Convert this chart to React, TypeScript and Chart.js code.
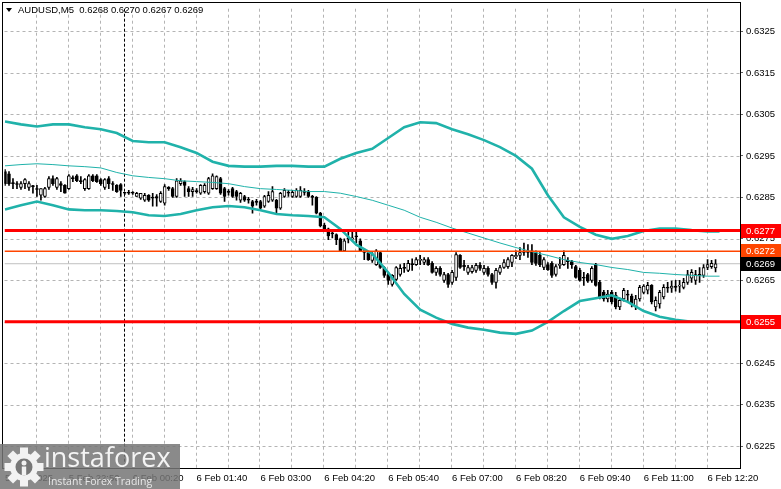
import React, { useEffect, useRef } from "react";
import { Chart, registerables } from "chart.js";

Chart.register(...registerables);

// ---------- data (AUDUSD M5) ----------
const OPEN = [
  0.62912, 0.62907, 0.62883, 0.62883, 0.62874, 0.62883, 0.62874, 0.62876, 0.62871, 0.62855,
  0.62852, 0.62874, 0.62895, 0.62874, 0.62883, 0.62879, 0.62871, 0.62895, 0.62902, 0.62888,
  0.62871, 0.62871, 0.62902, 0.62902, 0.62893, 0.62874, 0.62895, 0.62883, 0.62879, 0.62881,
  0.6286, 0.6286, 0.6286, 0.62852, 0.62848, 0.62843, 0.62855, 0.62848, 0.62852, 0.6284,
  0.62836, 0.62874, 0.62871, 0.62852, 0.62883, 0.62888, 0.62871, 0.62864, 0.62864, 0.6286,
  0.62864, 0.6286, 0.62871, 0.62871, 0.62895, 0.62871, 0.62864, 0.62871, 0.62864, 0.62843,
  0.62852, 0.62845, 0.6284, 0.6284, 0.6284, 0.62829, 0.6284, 0.62843, 0.62843, 0.62824,
  0.62852, 0.62862, 0.62852, 0.62852, 0.62852, 0.62864, 0.62864, 0.62852, 0.6285, 0.62812,
  0.62783, 0.62774, 0.62764, 0.6276, 0.6275, 0.62721, 0.62752, 0.6275, 0.62757, 0.62745,
  0.62721, 0.62717, 0.62698, 0.62688, 0.62717, 0.62681, 0.62664, 0.6264, 0.62652, 0.62664,
  0.62679, 0.62674, 0.62688, 0.62688, 0.62698, 0.62693, 0.627, 0.62691, 0.62669, 0.62679,
  0.6265, 0.62664, 0.62645, 0.62657, 0.6271, 0.62686, 0.62669, 0.62671, 0.62674, 0.62686,
  0.62669, 0.62679, 0.62664, 0.62645, 0.62669, 0.62681, 0.62683, 0.62693, 0.62707, 0.6271,
  0.62717, 0.62717, 0.62721, 0.62717, 0.6271, 0.62681, 0.62688, 0.62691, 0.62664, 0.62686,
  0.62688, 0.62698, 0.62695, 0.62683, 0.62674, 0.62655, 0.62664, 0.6265, 0.62688, 0.62645,
  0.62621, 0.62605, 0.62621, 0.62614, 0.62586, 0.62605, 0.62617, 0.62612, 0.62586, 0.62605,
  0.62621, 0.62626, 0.62638, 0.62586, 0.62593, 0.6261, 0.62633, 0.62631, 0.62636, 0.62636,
  0.62633, 0.62645, 0.62655, 0.6265, 0.62664, 0.62662, 0.62681, 0.62683, 0.6268,
];
const HIGH = [
  0.62917, 0.62912, 0.62895, 0.62888, 0.62888, 0.62895, 0.62888, 0.62879, 0.62879, 0.62871,
  0.62874, 0.629, 0.62902, 0.62898, 0.62888, 0.62881, 0.62905, 0.62902, 0.62905, 0.629,
  0.62895, 0.62905, 0.62905, 0.62905, 0.62895, 0.62895, 0.629, 0.62888, 0.62881, 0.62883,
  0.62862, 0.62867, 0.62864, 0.62862, 0.6286, 0.6286, 0.62857, 0.6286, 0.62857, 0.62864,
  0.62881, 0.62876, 0.62874, 0.62895, 0.62895, 0.6289, 0.62876, 0.62874, 0.62871, 0.62881,
  0.62883, 0.62898, 0.62907, 0.62902, 0.62898, 0.62874, 0.62869, 0.62874, 0.62867, 0.62862,
  0.62855, 0.6285, 0.62843, 0.62845, 0.62843, 0.62855, 0.62864, 0.62876, 0.62845, 0.62862,
  0.62871, 0.62867, 0.62867, 0.62871, 0.62876, 0.62871, 0.62867, 0.62855, 0.62852, 0.62814,
  0.62788, 0.62776, 0.62769, 0.62762, 0.62752, 0.6275, 0.62769, 0.62769, 0.62769, 0.6275,
  0.62726, 0.62719, 0.62717, 0.62724, 0.62719, 0.62683, 0.62669, 0.62664, 0.62683, 0.62688,
  0.62691, 0.62698, 0.62702, 0.62705, 0.6271, 0.62705, 0.62705, 0.62695, 0.62683, 0.62683,
  0.62669, 0.62667, 0.62674, 0.62717, 0.62712, 0.62698, 0.62686, 0.62686, 0.62691, 0.62693,
  0.62686, 0.62683, 0.62667, 0.62679, 0.62686, 0.627, 0.62705, 0.62712, 0.62721, 0.62729,
  0.6274, 0.62736, 0.62736, 0.62721, 0.62717, 0.62705, 0.62693, 0.62695, 0.62688, 0.62705,
  0.62721, 0.62705, 0.62698, 0.62686, 0.62679, 0.62669, 0.62667, 0.62683, 0.62691, 0.6265,
  0.62626, 0.62626, 0.62626, 0.62621, 0.62607, 0.62631, 0.62626, 0.62617, 0.62614, 0.62638,
  0.6264, 0.62645, 0.6264, 0.6261, 0.62626, 0.6264, 0.62645, 0.62648, 0.6265, 0.6265,
  0.62655, 0.62674, 0.62676, 0.62674, 0.62681, 0.62688, 0.627, 0.62698, 0.627,
];
const LOW = [
  0.62879, 0.62879, 0.62871, 0.62871, 0.62869, 0.62871, 0.62867, 0.6286, 0.62852, 0.62843,
  0.6285, 0.62869, 0.62879, 0.62869, 0.62864, 0.6286, 0.62869, 0.62888, 0.62888, 0.62883,
  0.62867, 0.62869, 0.62888, 0.62886, 0.62879, 0.62869, 0.62871, 0.62867, 0.62862, 0.62852,
  0.62857, 0.62857, 0.62857, 0.62852, 0.62845, 0.6284, 0.6284, 0.62829, 0.62829, 0.62838,
  0.62831, 0.62867, 0.6285, 0.6285, 0.62879, 0.62852, 0.62852, 0.62852, 0.6286, 0.62857,
  0.6286, 0.62857, 0.62869, 0.62869, 0.62857, 0.6284, 0.62855, 0.6285, 0.62843, 0.62838,
  0.6284, 0.62836, 0.62812, 0.62831, 0.62821, 0.62826, 0.62838, 0.6284, 0.62812, 0.62821,
  0.6285, 0.62852, 0.6285, 0.6285, 0.6285, 0.62855, 0.6285, 0.62831, 0.6281, 0.62779,
  0.62769, 0.62748, 0.62752, 0.62736, 0.62719, 0.62719, 0.6274, 0.62745, 0.6274, 0.62719,
  0.627, 0.62698, 0.62693, 0.62686, 0.62679, 0.62657, 0.6264, 0.62636, 0.6265, 0.6266,
  0.62669, 0.62671, 0.62674, 0.62686, 0.62688, 0.62688, 0.62686, 0.62667, 0.62662, 0.6266,
  0.62645, 0.62633, 0.6264, 0.6265, 0.62679, 0.62674, 0.62664, 0.62667, 0.62669, 0.62674,
  0.62664, 0.6266, 0.6264, 0.62631, 0.62664, 0.62679, 0.62679, 0.62683, 0.62702, 0.627,
  0.6271, 0.62705, 0.62688, 0.62686, 0.62683, 0.62676, 0.62674, 0.62657, 0.6266, 0.62679,
  0.62686, 0.62679, 0.62679, 0.62655, 0.62648, 0.62638, 0.62645, 0.62645, 0.62636, 0.62605,
  0.626, 0.62598, 0.62593, 0.62581, 0.62579, 0.626, 0.626, 0.62586, 0.62579, 0.626,
  0.62617, 0.62617, 0.62593, 0.62576, 0.62583, 0.62605, 0.62621, 0.62621, 0.62624, 0.62621,
  0.62629, 0.6264, 0.62645, 0.6264, 0.62645, 0.62657, 0.62676, 0.62679, 0.6267,
];
const CLOSE = [
  0.62883, 0.62883, 0.62883, 0.62881, 0.62883, 0.62893, 0.62883, 0.62876, 0.62869, 0.62871,
  0.62871, 0.62895, 0.62883, 0.62895, 0.62879, 0.6286, 0.62902, 0.62895, 0.6289, 0.62888,
  0.62893, 0.62902, 0.6289, 0.62888, 0.62883, 0.62893, 0.62883, 0.62881, 0.62864, 0.62867,
  0.6286, 0.6286, 0.6286, 0.6286, 0.6286, 0.62855, 0.62843, 0.62848, 0.62848, 0.6286,
  0.62876, 0.62871, 0.62852, 0.6289, 0.6289, 0.62879, 0.62864, 0.62869, 0.62864, 0.62879,
  0.62879, 0.62895, 0.62902, 0.629, 0.6286, 0.62852, 0.62862, 0.62852, 0.62852, 0.6286,
  0.62843, 0.62843, 0.62829, 0.62838, 0.62824, 0.62852, 0.62855, 0.62864, 0.62824, 0.6286,
  0.62867, 0.6286, 0.62862, 0.62867, 0.62867, 0.62862, 0.62852, 0.6285, 0.62812, 0.62781,
  0.62774, 0.62757, 0.62762, 0.62748, 0.62721, 0.62745, 0.6275, 0.62752, 0.62755, 0.62721,
  0.62717, 0.627, 0.62712, 0.62721, 0.62681, 0.62662, 0.6265, 0.62662, 0.62681, 0.62679,
  0.62679, 0.62691, 0.62688, 0.627, 0.627, 0.627, 0.62688, 0.62669, 0.62679, 0.62664,
  0.62664, 0.6264, 0.62669, 0.62712, 0.62681, 0.62683, 0.62681, 0.62681, 0.62686, 0.62679,
  0.62679, 0.62664, 0.62645, 0.62674, 0.62681, 0.62693, 0.627, 0.6271, 0.6271, 0.62717,
  0.62717, 0.62717, 0.62693, 0.62691, 0.62688, 0.627, 0.62676, 0.62662, 0.62683, 0.62688,
  0.6271, 0.62695, 0.62688, 0.62657, 0.6265, 0.62655, 0.62648, 0.62679, 0.62638, 0.6261,
  0.62605, 0.62617, 0.62598, 0.62586, 0.62602, 0.62626, 0.62614, 0.62593, 0.62605, 0.62633,
  0.62636, 0.62638, 0.62598, 0.62602, 0.62621, 0.62633, 0.62631, 0.62636, 0.62633, 0.62638,
  0.62645, 0.62664, 0.62669, 0.62664, 0.62662, 0.62681, 0.62688, 0.62691, 0.6269,
];

// Bollinger bands, read every 4 bars
const BAND_INDEX = [
  0, 4, 8, 12, 16, 20, 24, 28, 32, 36, 40, 44, 48, 52, 56, 60, 64, 68, 72, 76, 80, 84, 88,
  92, 96, 100, 104, 108, 112, 116, 120, 124, 128, 132, 136, 140, 144, 148, 152, 156, 160,
  164, 168, 172, 176, 179,
];
const UPPER = [
  0.63033, 0.63026, 0.63021, 0.63026, 0.63026, 0.63019, 0.63014, 0.63005, 0.62986, 0.62983,
  0.62983, 0.62971, 0.62957, 0.62936, 0.62926, 0.62924, 0.62924, 0.62926, 0.62926, 0.62924,
  0.62924, 0.62943, 0.62957, 0.62967, 0.62993, 0.63019, 0.63031, 0.63029, 0.63014, 0.63002,
  0.62988, 0.62971, 0.6295, 0.62919, 0.62855, 0.62802, 0.62779, 0.6276, 0.6275, 0.62757,
  0.62769, 0.62775, 0.62775, 0.62771, 0.62768, 0.62768,
];
const MIDDLE = [
  0.62926, 0.62929, 0.62931, 0.62929, 0.62926, 0.62924, 0.62921, 0.6291, 0.62902, 0.62898,
  0.62895, 0.6289, 0.62888, 0.62886, 0.62883, 0.62876, 0.62871, 0.62869, 0.62867, 0.62864,
  0.62864, 0.6286, 0.62852, 0.62843, 0.62831, 0.62819, 0.62802, 0.6279, 0.62776, 0.62764,
  0.62752, 0.6274, 0.62729, 0.62719, 0.6271, 0.627, 0.62693, 0.62688, 0.62681, 0.62676,
  0.62669, 0.62667, 0.62664, 0.62662, 0.6266, 0.6266,
];
const LOWER = [
  0.62821, 0.62831, 0.6284, 0.62831, 0.62821, 0.62819, 0.62819, 0.62817, 0.62814, 0.62807,
  0.62805, 0.6281, 0.62819, 0.62826, 0.62829, 0.62826, 0.62819, 0.6281, 0.62807, 0.62805,
  0.62802, 0.62774, 0.62736, 0.62714, 0.62669, 0.62617, 0.62579, 0.6256, 0.62545, 0.62536,
  0.62531, 0.62524, 0.62521, 0.62529, 0.6255, 0.62576, 0.626, 0.62607, 0.62614, 0.62598,
  0.62576, 0.62562, 0.62555, 0.6255, 0.6255, 0.6255,
];

const LEVEL_PRICES = [0.6277, 0.6272, 0.6255];
const BID_PRICE = 0.6269;
const TAG_PRICES = [0.6277, 0.6272, 0.6269, 0.6255];
const Y_TICKS = [0.6225, 0.6235, 0.6245, 0.6255, 0.6265, 0.6275, 0.6285, 0.6295, 0.6305, 0.6315, 0.6325];
const X_GRID_INDEX = [0, 8, 16, 24, 32, 40, 48, 56, 64, 72, 80, 88, 96, 104, 112, 120, 128, 136, 144, 152, 160, 168, 176];
const LABEL_INDEX = [0, 16, 32, 48, 64, 80, 96, 112, 128, 144, 160, 176];
const LABEL_TEXT = [
  "5 Feb 2025", "5 Feb 22:50", "6 Feb 00:20", "6 Feb 01:40", "6 Feb 03:00", "6 Feb 04:20",
  "6 Feb 05:40", "6 Feb 07:00", "6 Feb 08:20", "6 Feb 09:40", "6 Feb 11:00", "6 Feb 12:20",
];
const SEPARATOR_INDEX = 30;
const HEADER = "AUDUSD,M5  0.6268 0.6270 0.6267 0.6269";

// ---------- view ----------
const X_MIN = -0.125;
const X_MAX = 184.125;
const Y_MIN = 0.621976;
const Y_MAX = 0.633048;

const TEAL = "#20b2aa";
const GRID = "#b4b4b4";
const LEVEL_COLORS = ["#ff0000", "#ff4500", "#ff0000"];
const LEVEL_WIDTHS = [3, 1.5, 3];
const TAG_COLORS = ["#ff0000", "#ff4500", "#000000", "#ff0000"];
const FONT = "'Liberation Sans', Arial, sans-serif";

const overlayPlugin = {
  id: "mtOverlay",
  beforeDatasetsDraw(chart: any) {
    const { ctx, chartArea, scales } = chart;
    ctx.save();
    ctx.strokeStyle = GRID;
    ctx.lineWidth = 1;
    ctx.setLineDash([3, 3]);
    // grid (vertical + horizontal), dashed
    X_GRID_INDEX.forEach((k) => {
      const x = Math.round(scales.x.getPixelForValue(k)) - 0.5;
      if (x < chartArea.left + 1) return;
      ctx.beginPath();
      ctx.moveTo(x, chartArea.top);
      ctx.lineTo(x, chartArea.bottom);
      ctx.stroke();
    });
    Y_TICKS.forEach((p) => {
      const y = Math.round(scales.y.getPixelForValue(p)) + 0.5;
      ctx.beginPath();
      ctx.moveTo(chartArea.left, y);
      ctx.lineTo(chartArea.right, y);
      ctx.stroke();
    });
    // day separator
    const sx = Math.round(scales.x.getPixelForValue(SEPARATOR_INDEX)) - 0.5;
    ctx.strokeStyle = "#000";
    ctx.setLineDash([3, 2]);
    ctx.beginPath();
    ctx.moveTo(sx, chartArea.top);
    ctx.lineTo(sx, chartArea.bottom);
    ctx.stroke();
    ctx.restore();
  },
  afterDraw(chart: any) {
    const { ctx, chartArea, scales } = chart;
    ctx.save();
    ctx.strokeStyle = "#000";
    ctx.lineWidth = 1;
    ctx.setLineDash([]);
    ctx.strokeRect(2.5, 2.5, chartArea.right - 2, chartArea.bottom - 2);
    ctx.font = `9.5px ${FONT}`;
    ctx.textBaseline = "middle";
    ctx.textAlign = "left";
    TAG_PRICES.forEach((p, i) => {
      const y = Math.round(scales.y.getPixelForValue(p));
      ctx.fillStyle = TAG_COLORS[i];
      ctx.fillRect(chartArea.right + 1, y - 7, 40, 14);
      ctx.fillStyle = "#fff";
      ctx.fillText(p.toFixed(4), chartArea.right + 6, y + 0.5);
    });
    ctx.restore();
  },
};

export default function App() {
  const canvasRef = useRef<HTMLCanvasElement | null>(null);

  useEffect(() => {
    document.body.style.margin = "0";
    const canvas = canvasRef.current;
    if (!canvas) return;

    const wickData = OPEN.map((_, i) => ({ x: i, y: [LOW[i], HIGH[i]] }));
    const bodyData = OPEN.map((o, i) => ({ x: i, y: [o, CLOSE[i]] }));
    const bodyColors = OPEN.map((o, i) => (CLOSE[i] > o ? "#ffffff" : "#000000"));
    const band = (arr: number[]) => BAND_INDEX.map((k, j) => ({ x: k, y: arr[j] }));
    const level = (p: number) => [
      { x: X_MIN, y: p },
      { x: X_MAX, y: p },
    ];

    const datasets: any[] = [
      { type: "line", data: level(BID_PRICE), borderColor: "#c0c0c0", borderWidth: 1, pointRadius: 0, order: 6 },
      {
        type: "bar",
        data: wickData,
        backgroundColor: "#000",
        borderWidth: 0,
        barThickness: 1,
        minBarLength: 1,
        grouped: false,
        order: 5,
      },
      {
        type: "bar",
        data: bodyData,
        backgroundColor: bodyColors,
        borderColor: "#000",
        borderWidth: 1,
        borderSkipped: false,
        barThickness: 3,
        minBarLength: 1,
        grouped: false,
        order: 4,
      },
      { type: "line", data: band(UPPER), borderColor: TEAL, borderWidth: 2.6, pointRadius: 0, order: 3 },
      { type: "line", data: band(LOWER), borderColor: TEAL, borderWidth: 2.6, pointRadius: 0, order: 3 },
      { type: "line", data: band(MIDDLE), borderColor: TEAL, borderWidth: 1, pointRadius: 0, order: 3 },
      ...LEVEL_PRICES.map((p, i) => ({
        type: "line",
        data: level(p),
        borderColor: LEVEL_COLORS[i],
        borderWidth: LEVEL_WIDTHS[i],
        pointRadius: 0,
        order: 1,
      })),
    ];

    const chart = new Chart(canvas, {
      type: "bar",
      data: { datasets },
      options: {
        responsive: false,
        animation: false,
        devicePixelRatio: 1,
        events: [],
        layout: { padding: { left: 3, top: 3, right: 0, bottom: 0 } },
        plugins: { legend: { display: false }, tooltip: { enabled: false } },
        scales: {
          x: {
            type: "linear",
            min: X_MIN,
            max: X_MAX,
            offset: false,
            position: "bottom",
            afterBuildTicks: (s: any) => {
              s.ticks = X_GRID_INDEX.map((v) => ({ value: v }));
            },
            afterFit: (s: any) => {
              s.height = 21;
            },
            ticks: {
              autoSkip: false,
              maxRotation: 0,
              minRotation: 0,
              align: "start",
              padding: 5,
              color: "#000",
              font: { family: FONT, size: 9.5 },
              callback: (v: any) => {
                const i = LABEL_INDEX.indexOf(Number(v));
                return i >= 0 ? LABEL_TEXT[i] : "";
              },
            },
            grid: { display: false, drawTicks: false, offset: false },
            border: { display: false },
          },
          y: {
            type: "linear",
            position: "right",
            min: Y_MIN,
            max: Y_MAX,
            afterBuildTicks: (s: any) => {
              s.ticks = Y_TICKS.map((v) => ({ value: v }));
            },
            afterFit: (s: any) => {
              s.width = 41;
            },
            ticks: {
              padding: 3,
              color: "#000",
              font: { family: FONT, size: 9.5 },
              callback: (v: any) => Number(v).toFixed(4),
            },
            grid: { drawOnChartArea: false, tickLength: 3, tickColor: "#606060" },
            border: { display: false },
          },
        },
      } as any,
      plugins: [overlayPlugin],
    } as any);

    return () => chart.destroy();
  }, []);

  return (
    <div style={{ position: "relative", width: 781, height: 489, background: "#fff", overflow: "hidden" }}>
      <canvas ref={canvasRef} width={781} height={489} style={{ display: "block", width: 781, height: 489 }} />
      <div
        style={{
          position: "absolute",
          left: 6,
          top: 8,
          width: 0,
          height: 0,
          borderLeft: "3px solid transparent",
          borderRight: "3px solid transparent",
          borderTop: "4px solid #000",
        }}
      />
      <div
        style={{
          position: "absolute",
          left: 18,
          top: 4,
          fontFamily: FONT,
          fontSize: 9.5,
          lineHeight: "12px",
          whiteSpace: "pre",
          color: "#000",
        }}
      >
        {HEADER}
      </div>
      <div
        style={{
          position: "absolute",
          left: 0,
          top: 444,
          width: 180,
          height: 45,
          background: "rgba(118,118,118,0.85)",
          fontFamily: "'Open Sans', 'Noto Sans', sans-serif",
        }}
      >
        <svg width="44" height="45" style={{ position: "absolute", left: 2, top: 0 }} viewBox="0 0 44 45">
          <g transform="translate(22,23)" fill="#f2f2f2">
            {[0, 45, 90, 135, 180, 225, 270, 315].map((a) => (
              <rect key={a} x={-4} y={-19.5} width={8} height={9} transform={`rotate(${a})`} />
            ))}
            <circle r={14} />
            <circle r={8.5} fill="#777" />
            <circle cx={0} cy={-4} r={2.5} />
            <rect x={-2.2} y={-0.5} width={4.4} height={9} />
          </g>
        </svg>
        <div
          style={{
            position: "absolute",
            left: 44,
            top: -4,
            fontSize: 27,
            lineHeight: "34px",
            color: "#f4f4f4",
            whiteSpace: "nowrap",
          }}
        >
          instaforex
        </div>
        <div
          style={{
            position: "absolute",
            left: 48,
            top: 31,
            fontSize: 10.5,
            lineHeight: "12px",
            color: "#e8e8e8",
            whiteSpace: "nowrap",
          }}
        >
          Instant Forex Trading
        </div>
      </div>
    </div>
  );
}
